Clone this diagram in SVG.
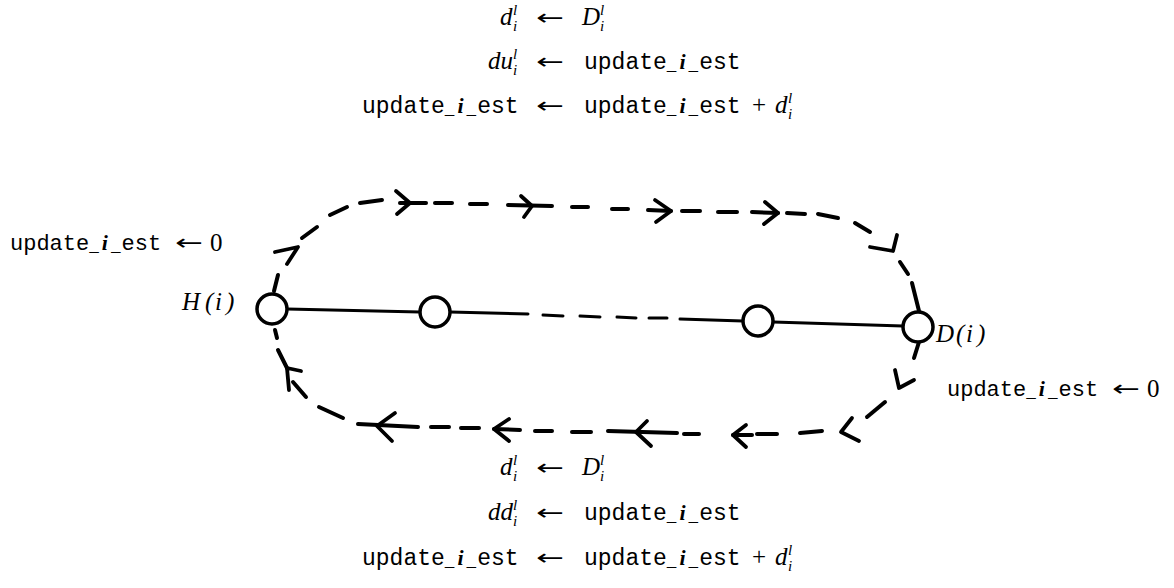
<svg xmlns="http://www.w3.org/2000/svg" width="1174" height="588" viewBox="0 0 1174 588">
<style>
.nd{fill:#fff;stroke:#000;stroke-width:3.5}
.ln{stroke:#000;stroke-width:3;fill:none;stroke-linecap:round}
.ds line{stroke:#000;stroke-width:4;stroke-linecap:round}
.ah{stroke:#000;stroke-width:3.8;fill:none;stroke-linecap:round;stroke-linejoin:round}
.tt{font-family:"Liberation Mono",monospace;font-size:22px;fill:#000}
.tb{font-size:23px}
.us{font-size:16px}
.bi{font-family:"Liberation Serif",serif;font-style:italic;font-weight:bold;font-size:22px}
.mi{font-family:"Liberation Serif",serif;font-style:italic;font-size:25px;fill:#000}
.sc{font-family:"Liberation Serif",serif;font-style:italic;font-size:15px;fill:#000}
.rm{font-family:"Liberation Serif",serif;font-size:25px;fill:#000}
.ar{font-family:"DejaVu Sans",sans-serif;font-size:22px;fill:#000}
</style>
<rect width="1174" height="588" fill="#fff"/>

<g id="connectors">
  <g class="ln">
    <line x1="287" y1="309" x2="420" y2="312"/>
    <line x1="450" y1="312" x2="528" y2="314"/>
    <line x1="543" y1="315" x2="563" y2="316"/>
    <line x1="580" y1="316" x2="600" y2="317"/>
    <line x1="617" y1="317" x2="636" y2="318"/>
    <line x1="649" y1="318" x2="667" y2="318"/>
    <line x1="680" y1="319" x2="743" y2="321"/>
    <line x1="773" y1="322" x2="903" y2="326"/>
  </g>
  <g class="ds">
    <line x1="278" y1="275" x2="274" y2="291"/>
    <line x1="302" y1="238" x2="317" y2="227"/>
    <line x1="330" y1="215" x2="347" y2="207"/>
    <line x1="360" y1="203" x2="382" y2="200"/>
    <line x1="400" y1="203" x2="426" y2="203"/>
    <line x1="435" y1="203" x2="452" y2="203"/>
    <line x1="470" y1="204" x2="487" y2="204"/>
    <line x1="508" y1="205" x2="552" y2="206"/>
    <line x1="572" y1="207" x2="588" y2="207"/>
    <line x1="612" y1="209" x2="628" y2="209"/>
    <line x1="648" y1="210" x2="671" y2="211"/>
    <line x1="682" y1="211" x2="700" y2="211"/>
    <line x1="718" y1="212" x2="737" y2="212"/>
    <line x1="752" y1="212" x2="778" y2="213"/>
    <line x1="787" y1="213" x2="805" y2="214"/>
    <line x1="818" y1="214" x2="838" y2="218"/>
    <line x1="855" y1="223" x2="870" y2="232"/>
    <line x1="900" y1="262" x2="908" y2="274"/>
    <line x1="912" y1="283" x2="919" y2="311"/>
    <line x1="919" y1="342" x2="914" y2="358"/>
    <line x1="885" y1="402" x2="867" y2="417"/>
    <line x1="822" y1="431" x2="800" y2="433"/>
    <line x1="777" y1="434" x2="757" y2="434"/>
    <line x1="733" y1="435" x2="752" y2="435"/>
    <line x1="684" y1="434" x2="699" y2="434"/>
    <line x1="608" y1="431" x2="677" y2="433"/>
    <line x1="591" y1="432" x2="572" y2="432"/>
    <line x1="552" y1="431" x2="535" y2="431"/>
    <line x1="494" y1="429" x2="520" y2="430"/>
    <line x1="479" y1="428" x2="461" y2="428"/>
    <line x1="449" y1="427" x2="431" y2="427"/>
    <line x1="358" y1="424" x2="418" y2="427"/>
    <line x1="343" y1="418" x2="319" y2="407"/>
    <line x1="306" y1="397" x2="293" y2="382"/>
    <line x1="278" y1="350" x2="287" y2="368"/>
    <line x1="275" y1="330" x2="277" y2="338"/>
  </g>
  <g class="ah">
    <polyline points="275,252 298,247 287,264"/>
    <polyline points="396,191 410,203 397,214"/>
    <polyline points="521,196 532,206 524,217"/>
    <polyline points="655,200 671,211 656,222"/>
    <polyline points="765,202 778,213 764,224"/>
    <polyline points="870,247 893,251 897,235"/>
    <polyline points="895,370 899,388 914,380"/>
    <polyline points="852,418 841,432 859,441"/>
    <polyline points="746,425 733,435 746,447"/>
    <polyline points="647,421 636,432 651,446"/>
    <polyline points="509,419 494,429 509,441"/>
    <polyline points="395,413 377,426 392,441"/>
    <polyline points="301,371 287,368 289,390"/>
  </g>
</g>

<g id="node-H">
  <circle class="nd" cx="272" cy="309" r="15"/>
  <text class="mi" y="310"><tspan x="182">H</tspan><tspan class="rm" x="205">(</tspan><tspan x="215">i</tspan><tspan class="rm" x="226">)</tspan></text>
</g>
<g id="node-2"><circle class="nd" cx="435" cy="312" r="15"/></g>
<g id="node-3"><circle class="nd" cx="758" cy="321" r="15"/></g>
<g id="node-D">
  <circle class="nd" cx="918" cy="327" r="15"/>
  <text class="mi" y="342"><tspan x="936">D</tspan><tspan class="rm" x="956">(</tspan><tspan x="966">i</tspan><tspan class="rm" x="977">)</tspan></text>
</g>

<g id="label-left">
  <text class="tt" x="10" y="250">update<tspan class="us" dy="1">_</tspan><tspan class="bi" dx="3" dy="-1">i</tspan><tspan class="us" dx="3" dy="1">_</tspan><tspan dx="1" dy="-1">est</tspan></text>
  <text class="ar" x="175" y="250" textLength="28" lengthAdjust="spacingAndGlyphs">←</text>
  <text class="rm" x="210" y="251">0</text>
</g>
<g id="label-right">
  <text class="tt" x="947" y="396">update<tspan class="us" dy="1">_</tspan><tspan class="bi" dx="3" dy="-1">i</tspan><tspan class="us" dx="3" dy="1">_</tspan><tspan dx="1" dy="-1">est</tspan></text>
  <text class="ar" x="1112" y="396" textLength="28" lengthAdjust="spacingAndGlyphs">←</text>
  <text class="rm" x="1147" y="397">0</text>
</g>

<g id="label-top">
  <text class="mi" x="500" y="25">d</text><text class="sc" x="513" y="15">l</text><text class="sc" x="513" y="31">i</text>
  <text class="ar" x="536" y="25" textLength="28" lengthAdjust="spacingAndGlyphs">←</text>
  <text class="mi" x="582" y="25">D</text><text class="sc" x="600" y="15">l</text><text class="sc" x="600" y="31">i</text>

  <text class="mi" x="488" y="69">du</text><text class="sc" x="513" y="59">l</text><text class="sc" x="513" y="75">i</text>
  <text class="ar" x="536" y="69" textLength="28" lengthAdjust="spacingAndGlyphs">←</text>
  <text class="tt tb" x="584" y="69">update<tspan class="us" dy="1">_</tspan><tspan class="bi" dx="3" dy="-1">i</tspan><tspan class="us" dx="3" dy="1">_</tspan><tspan dx="1" dy="-1">est</tspan></text>

  <text class="tt tb" x="362" y="113">update<tspan class="us" dy="1">_</tspan><tspan class="bi" dx="3" dy="-1">i</tspan><tspan class="us" dx="3" dy="1">_</tspan><tspan dx="1" dy="-1">est</tspan></text>
  <text class="ar" x="536" y="113" textLength="28" lengthAdjust="spacingAndGlyphs">←</text>
  <text class="tt tb" x="584" y="113">update<tspan class="us" dy="1">_</tspan><tspan class="bi" dx="3" dy="-1">i</tspan><tspan class="us" dx="3" dy="1">_</tspan><tspan dx="1" dy="-1">est</tspan></text>
  <text class="rm" x="752" y="113">+</text>
  <text class="mi" x="775" y="113">d</text><text class="sc" x="788" y="103">l</text><text class="sc" x="788" y="119">i</text>
</g>

<g id="label-bottom">
  <text class="mi" x="500" y="475">d</text><text class="sc" x="513" y="465">l</text><text class="sc" x="513" y="481">i</text>
  <text class="ar" x="536" y="475" textLength="28" lengthAdjust="spacingAndGlyphs">←</text>
  <text class="mi" x="582" y="475">D</text><text class="sc" x="600" y="465">l</text><text class="sc" x="600" y="481">i</text>

  <text class="mi" x="488" y="520">dd</text><text class="sc" x="513" y="510">l</text><text class="sc" x="513" y="526">i</text>
  <text class="ar" x="536" y="520" textLength="28" lengthAdjust="spacingAndGlyphs">←</text>
  <text class="tt tb" x="584" y="520">update<tspan class="us" dy="1">_</tspan><tspan class="bi" dx="3" dy="-1">i</tspan><tspan class="us" dx="3" dy="1">_</tspan><tspan dx="1" dy="-1">est</tspan></text>

  <text class="tt tb" x="362" y="565">update<tspan class="us" dy="1">_</tspan><tspan class="bi" dx="3" dy="-1">i</tspan><tspan class="us" dx="3" dy="1">_</tspan><tspan dx="1" dy="-1">est</tspan></text>
  <text class="ar" x="536" y="565" textLength="28" lengthAdjust="spacingAndGlyphs">←</text>
  <text class="tt tb" x="584" y="565">update<tspan class="us" dy="1">_</tspan><tspan class="bi" dx="3" dy="-1">i</tspan><tspan class="us" dx="3" dy="1">_</tspan><tspan dx="1" dy="-1">est</tspan></text>
  <text class="rm" x="752" y="565">+</text>
  <text class="mi" x="775" y="565">d</text><text class="sc" x="788" y="555">l</text><text class="sc" x="788" y="571">i</text>
</g>
</svg>
